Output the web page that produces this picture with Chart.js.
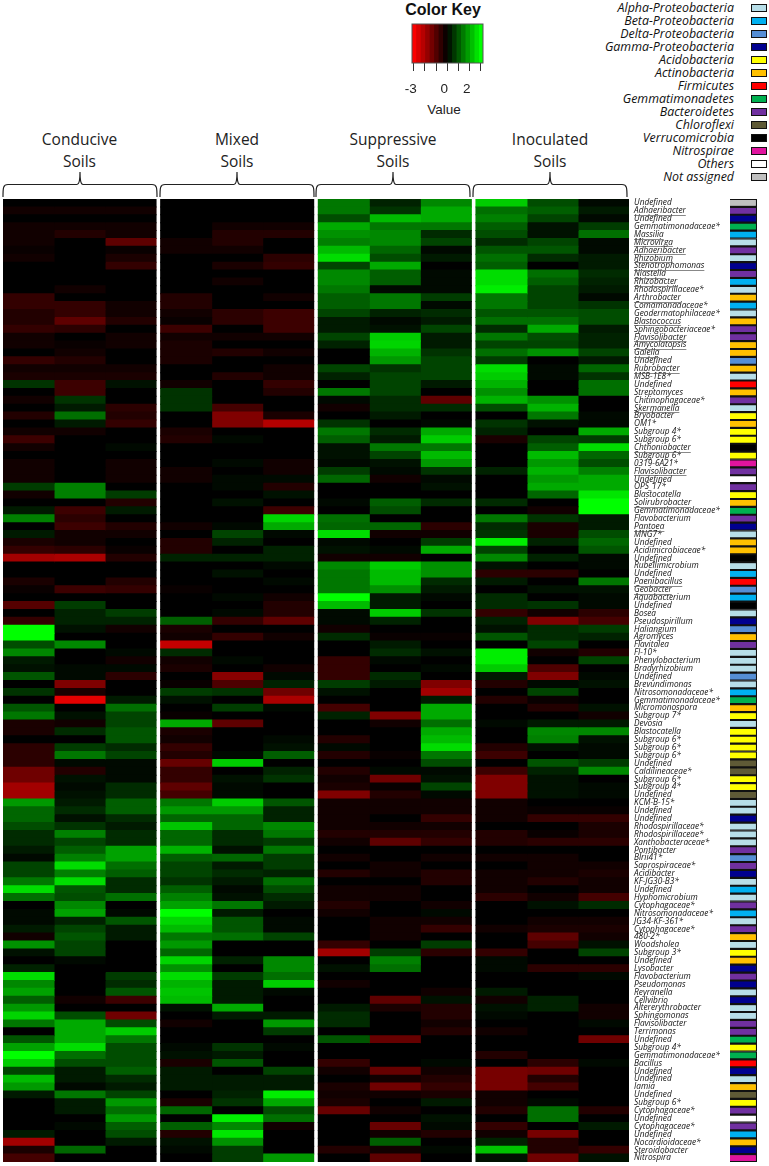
<!DOCTYPE html>
<html>
<head>
<meta charset="utf-8">
<title>Soil heatmap</title>
<script src="https://cdn.jsdelivr.net/npm/chart.js@4/dist/chart.umd.min.js"></script>
<style>
html, body { margin: 0; padding: 0; background: #fff; }
#page { position: relative; width: 769px; height: 1166px; overflow: hidden; }
canvas { position: absolute; }
.head { position: absolute; width: 150px; text-align: center; font: 15.5px/22px "Open Sans", sans-serif; color: #222; }
.leg { position: absolute; right: 35px; font: italic 12.4px/13px "Open Sans", sans-serif; color: #111; white-space: nowrap; }
.swatch { position: absolute; left: 751px; width: 14px; height: 6px; border: 1px solid #111; }
#braces { position: absolute; left: 0; top: 165px; }
#keyTitle { position: absolute; left: 393px; width: 100px; top: 0; text-align: center; font: bold 16px/19px "Liberation Sans", sans-serif; color: #111; }
#keyValue { position: absolute; left: 394px; width: 100px; top: 102px; text-align: center; font: 13.5px/16px "Liberation Sans", sans-serif; color: #222; }
</style>
</head>
<body>
<div id="page">
  <svg id="braces" width="640" height="35"></svg>
  <div id="keyTitle">Color Key</div>
  <div id="keyValue">Value</div>
  <canvas id="keyCanvas" width="118" height="123" style="left:392px;top:0"></canvas>
  <canvas id="heatCanvas" width="730" height="971" style="left:0;top:195px"></canvas>
  <canvas id="stripCanvas" width="27" height="963" style="left:730px;top:199px"></canvas>
</div>
<script>
// row labels, top to bottom
const genera = ['Undefined','Adhaeribacter','Undefined','Gemmatimonadaceae*','Massilia','Microvirga','Adhaeribacter','Rhizobium','Stenotrophomonas','Niastella',
  'Rhizobacter','Rhodospirillaceae*','Arthrobacter','Comamonadaceae*','Geodermatophilaceae*','Blastococcus','Sphingobacteriaceae*','Flavisolibacter','Amycolatopsis','Gaiella',
  'Undefined','Rubrobacter','MSB-1E8*','Undefined','Streptomyces','Chitinophagaceae*','Skermanella','Bryobacter','OM1*','Subgroup 4*',
  'Subgroup 6*','Chthoniobacter','Subgroup 6*','0319-6A21*','Flavisolibacter','Undefined','OPS_17*','Blastocatella','Solirubrobacter','Gemmatimonadaceae*',
  'Flavobacterium','Pantoea','MNG7*','Undefined','Acidimicrobiaceae*','Undefined','Rubellimicrobium','Undefined','Paenibacillus','Geobacter',
  'Aquabacterium','Undefined','Bosea','Pseudospirillum','Haliangium','Agromyces','Flavitalea','FI-10*','Phenylobacterium','Bradyrhizobium',
  'Undefined','Brevundimonas','Nitrosomonadaceae*','Gemmatimonadaceae*','Micromonospora','Subgroup 7*','Devosia','Blastocatella','Subgroup 6*','Subgroup 6*',
  'Subgroup 6*','Undefined','Caldilineaceae*','Subgroup 6*','Subgroup 4*','Undefined','KCM-B-15*','Undefined','Undefined','Rhodospirillaceae*',
  'Rhodospirillaceae*','Xanthobacteraceae*','Pontibacter','Blrii41*','Saprospiraceae*','Acidibacter','KF-JG30-B3*','Undefined','Hyphomicrobium','Cytophagaceae*',
  'Nitrosomonadaceae*','JG34-KF-361*','Cytophagaceae*','480-2*','Woodsholea','Subgroup 3*','Undefined','Lysobacter','Flavobacterium','Pseudomonas',
  'Reyranella','Cellvibrio','Altererythrobacter','Sphingomonas','Flavisolibacter','Terrimonas','Undefined','Subgroup 4*','Gemmatimonadaceae*','Bacillus',
  'Undefined','Undefined','Iamia','Undefined','Subgroup 6*','Cytophagaceae*','Undefined','Cytophagaceae*','Undefined','Nocardioidaceae*',
  'Steroidobacter','Nitrospira'];

// row numbers (from 0) with an underlined name
const underlined = [1,4,5,6,7,8,9,10,12,15,17,18,19,21,26,31,34,38,41,48,49];

const phyla = ['Alpha-Proteobacteria','Beta-Proteobacteria','Delta-Proteobacteria','Gamma-Proteobacteria','Acidobacteria','Actinobacteria','Firmicutes','Gemmatimonadetes','Bacteroidetes','Chloroflexi','Verrucomicrobia','Nitrospirae','Others','Not assigned'];
const phylumColors = ['#b7dee8','#00b0f0','#558ed5','#00008f','#ffff00','#ffc000','#ff0000','#00b050','#7030a0','#5f5a36','#000000','#e0149f','#ffffff','#bfbfbf'];

// phylum of each row, index into phyla
const rowPhylum = [13,8,3,7,1,0,8,0,3,8, 1,0,5,1,0,5,8,8,5,5, 2,5,0,6,5,8,0,4,5,4,
  4,10,4,11,8,12,8,4,5,7, 8,3,0,5,5,10,0,1,6,2, 1,10,0,3,2,5,8,0,0,0,
  2,0,1,7,5,4,0,4,4,4, 4,9,9,4,4,9,0,0,3,0, 0,0,8,2,8,3,0,1,0,8,
  1,0,8,5,0,4,5,3,8,3, 0,3,0,0,8,8,7,4,7,6, 3,0,5,9,4,8,12,8,1,5, 3,11];

// heat values, in tenths of a colour key unit, one array per sample column
const conducive1 = [0,-2,0,-2,-2,-2,-1,-2,0,0,0,0,-6,-6,-4,-4,-6,-2,-2,0,-6,-2,-3,6,0,-2,0,-4,0,-2,
  -7,-2,0,-2,-2,-2,7,-2,0,3,15,0,3,-3,-6,-19,0,0,-3,-1,0,-10,0,
  -6,30,30,9,16,3,2,10,0,6,0,10,14,-3,-3,0,-5,-5,-5,-13,-13,-19,-19,
  18,12,12,9,5,5,3,1,8,8,14,26,13,0,1,1,3,-2,17,2,0,4,26,
  16,19,11,18,25,14,0,10,19,30,24,8,22,18,3,0,0,0,0,3,-19,-3,-8];
const conducive2 = [0,-2,0,-2,-4,0,0,0,0,0,0,-2,0,-6,-6,-11,-5,0,-1,-2,-4,-2,-3,-7,-7,6,3,13,3,-2,
  0,0,0,0,0,0,15,15,0,-7,-5,-7,-2,-2,-5,-20,0,0,0,-7,0,7,4,
  4,2,0,16,0,0,1,1,-15,-3,-27,0,2,-2,5,0,7,14,1,-4,2,1,2,
  3,5,2,6,15,8,11,15,26,15,26,10,9,16,19,4,8,10,8,8,1,0,0,
  0,0,-2,0,9,20,20,20,26,13,9,3,3,1,14,3,3,0,1,0,0,12,0];
const conducive3 = [0,-2,0,-2,-2,-11,-1,-3,-6,0,0,0,0,-2,-2,-4,0,-2,-2,0,0,-2,-3,2,0,0,-5,-4,-6,0,
  0,1,0,-2,-2,-2,0,7,-4,3,0,-4,-2,0,-1,-4,0,0,-4,-6,0,0,7,
  4,-2,0,0,1,-2,1,-5,0,0,3,13,8,8,10,10,5,8,1,1,1,5,5,
  11,11,5,3,5,5,19,19,13,11,5,5,13,0,1,10,3,3,0,0,0,0,7,
  5,10,-7,0,-13,9,24,14,9,9,9,11,5,3,8,18,13,18,11,9,3,0,0];
const mixed1 = [0,0,0,0,0,-2,-2,0,0,0,0,0,-4,-4,-2,-1,-7,-2,-3,-3,-3,0,0,-2,6,6,6,0,0,-3,
  -4,0,0,0,-2,-2,0,0,0,0,0,-2,0,-4,-4,4,0,0,0,-1,0,0,0,
  11,-3,-2,-23,5,-2,-3,0,-1,7,2,0,-1,20,-3,-2,-6,-4,-12,-6,-6,-11,-8,
  14,18,12,23,12,12,21,11,8,8,6,11,15,19,30,25,22,14,18,12,25,17,26,
  21,23,22,2,0,-2,0,0,1,2,-3,3,3,3,0,-3,12,0,11,-4,2,1,0];
const mixed2 = [0,0,0,-2,-4,-4,-2,0,-3,0,-2,0,0,0,-5,-5,0,-2,0,-4,0,0,-4,0,0,0,-8,-15,-15,0,
  1,0,0,1,0,1,1,0,2,0,0,1,8,4,0,4,0,2,0,0,1,0,1,
  -6,0,-6,0,0,1,0,-16,-9,6,0,7,0,-11,0,0,0,1,24,0,2,1,1,
  24,18,12,12,5,5,2,12,3,5,3,1,2,14,3,10,10,13,0,0,4,0,7,
  3,3,3,20,3,0,0,0,6,3,10,0,3,3,4,6,0,28,16,27,17,7,7];
const mixed3 = [0,0,0,-2,-4,0,0,-5,-6,0,0,0,-2,0,-7,-7,-7,-2,0,-2,0,-2,-2,-6,-4,0,0,-3,-21,0,
  0,0,0,-2,-2,1,-4,2,0,-7,25,20,1,0,4,4,1,0,1,0,-2,-4,-4,
  -11,0,-2,0,0,0,-2,1,4,-13,-20,1,0,0,0,1,2,11,0,4,6,0,0,
  10,4,4,16,14,7,14,7,7,4,13,9,5,3,0,1,1,8,0,0,16,16,13,
  24,1,0,0,3,18,7,0,1,0,0,8,3,3,28,20,9,13,-2,0,0,0,18];
const suppressive1 = [14,14,9,20,17,15,22,26,8,16,16,14,11,11,8,3,3,8,4,0,0,8,4,0,14,1,-2,0,6,14,
  11,2,2,1,7,12,0,0,1,0,13,12,26,1,2,-2,16,14,14,14,30,22,1,
  1,-2,5,0,0,-6,-6,-6,7,2,0,-8,4,0,0,-4,1,-4,0,-4,-2,-3,-15,
  -2,-2,-2,-2,-4,-2,0,-2,0,-4,0,-2,-2,-4,-2,0,0,0,-6,-19,0,2,0,
  -2,0,0,3,5,5,0,10,0,0,-6,-2,0,-3,-2,-3,-12,0,0,0,0,-4,0];
const suppressive2 = [4,6,22,14,16,16,12,9,20,11,11,1,14,14,4,1,2,24,25,21,18,6,8,8,8,5,5,3,0,5,
  3,14,8,2,1,-2,0,0,11,9,0,12,-2,0,1,-2,24,22,22,17,3,3,24,
  4,0,-1,3,5,1,0,5,3,0,0,0,-15,-2,0,0,0,-1,0,1,-13,-1,-4,
  -2,-2,0,-2,-4,-11,0,0,-2,-2,0,-2,-2,0,0,-2,-2,-2,0,7,15,13,0,
  0,0,-11,-3,0,0,0,-12,0,0,0,-12,-2,-13,-2,0,-2,0,-12,-2,11,-2,-11];
const suppressive3 = [16,20,20,14,5,8,1,3,0,1,1,1,7,1,5,3,8,3,3,6,8,8,8,3,0,-11,5,0,1,20,
  24,14,22,18,6,1,2,0,5,0,0,-5,-2,7,20,0,17,17,5,3,1,0,6,
  0,0,-1,0,2,0,1,0,-15,-19,3,20,20,13,20,22,26,14,9,1,2,8,1,
  -2,-2,-6,-2,-4,-6,0,-2,0,-4,-4,0,0,-2,1,-2,-6,0,7,-5,0,0,0,
  0,-2,2,-4,-4,-2,-4,0,0,0,1,-2,-4,-6,-3,3,0,2,1,-4,0,1,0];
const inoculated1 = [24,13,15,11,9,5,10,13,11,26,26,28,14,14,10,13,5,14,8,13,7,26,24,21,17,21,9,0,6,4,
  -3,0,0,0,4,0,0,0,5,0,14,5,6,28,8,16,2,-5,3,0,5,5,-6,
  4,2,10,0,28,28,24,3,-4,0,-4,0,0,1,0,0,-4,-7,0,-7,-15,-15,-15,
  -2,-2,-2,0,-4,-4,0,-2,0,-2,-2,-2,-5,0,0,0,-2,0,0,-6,1,1,0,
  0,3,-2,2,1,0,-2,0,0,-4,0,-14,-14,-14,-2,-2,-4,0,-6,-2,4,23,2];
const inoculated2 = [9,11,8,2,2,8,10,5,0,13,11,8,8,8,10,13,20,9,8,17,0,1,1,0,0,17,21,14,2,0,
  8,11,22,18,21,18,20,12,0,-2,6,-3,-3,4,0,4,0,-5,0,2,0,6,-2,
  -15,5,5,8,-2,0,-9,-15,1,8,-1,-4,0,3,16,15,2,0,10,4,2,2,2,
  0,-1,-6,0,-1,-5,0,-2,-2,-2,-4,0,-2,2,0,-2,-3,-11,-8,0,0,-5,0,
  0,0,4,4,0,0,0,0,0,0,-5,-13,-4,-8,0,1,13,13,0,-14,-4,-4,-13];
const inoculated3 = [1,3,1,7,13,1,1,3,3,5,4,3,1,6,9,9,3,4,4,8,3,12,6,13,13,0,0,1,1,20,
  7,26,12,9,15,20,20,27,30,30,3,3,9,12,10,1,1,0,14,2,1,1,-5,
  -8,7,4,0,-4,8,0,1,2,0,0,2,-2,3,16,2,1,1,7,16,0,1,1,
  0,-1,-6,-3,-3,-5,0,0,-2,-3,-2,-2,-8,5,0,-2,-3,-2,2,8,0,-5,1,
  0,0,0,-2,-2,1,0,-13,0,0,1,0,0,0,0,0,-4,0,3,0,0,-6,2];

const groups = [
  { name: ['Conducive','Soils'], columns: [conducive1, conducive2, conducive3] },
  { name: ['Mixed','Soils'], columns: [mixed1, mixed2, mixed3] },
  { name: ['Suppressive','Soils'], columns: [suppressive1, suppressive2, suppressive3] },
  { name: ['Inoculated','Soils'], columns: [inoculated1, inoculated2, inoculated3] }
];

// colour key
const keyEdges = [-3.15,-2.75,-2.35,-1.95,-1.55,-1.15,-0.75,-0.35,0.05,0.45,0.85,1.25,1.65,2.05,2.45,2.85,3.18];
const keyTicks = { '-3': '-3', '0': '0', '2': '2' };

function heatColor(v) {
  const level = Math.min(255, Math.round(Math.abs(v) / 30 * 255));
  return v < 0 ? 'rgb(' + level + ',0,0)' : 'rgb(0,' + level + ',0)';
}

const labelFont = 'Open Sans';
const labelSize = 8.3;

// underline for the names in the underlined list
const underlinePlugin = {
  id: 'underlineNames',
  afterDraw(chart) {
    const ctx = chart.ctx, y = chart.scales.y;
    ctx.save();
    ctx.font = 'italic ' + labelSize + 'px "' + labelFont + '"';
    ctx.strokeStyle = '#555';
    ctx.lineWidth = 0.7;
    underlined.forEach(i => {
      const w = ctx.measureText(genera[i]).width;
      const py = Math.round(y.getPixelForTick(i) + 4) + 0.5;
      ctx.beginPath();
      ctx.moveTo(y.left + 5, py);
      ctx.lineTo(y.left + 5 + w, py);
      ctx.stroke();
    });
    ctx.restore();
  }
};

const heatSets = [];
groups.forEach((g, gi) => {
  g.columns.forEach(col => {
    heatSets.push({ data: col.map(() => 1), backgroundColor: col.map(heatColor), borderWidth: 0, inflateAmount: 0.5 });
  });
  if (gi < groups.length - 1) {
    // white space between the soil groups
    heatSets.push({ data: genera.map(() => 0.09), backgroundColor: 'rgba(0,0,0,0)', borderWidth: 0 });
  }
});

new Chart(document.getElementById('heatCanvas'), {
  type: 'bar',
  data: { labels: genera, datasets: heatSets },
  plugins: [underlinePlugin],
  options: {
    indexAxis: 'y',
    responsive: false,
    animation: false,
    layout: { padding: { left: 3, top: 4, bottom: 4 } },
    categoryPercentage: 1,
    barPercentage: 1,
    plugins: { legend: { display: false }, tooltip: { enabled: false } },
    scales: {
      x: { stacked: true, display: false, min: 0, max: 12.27 },
      y: {
        stacked: true,
        position: 'right',
        grid: { display: false, drawTicks: false },
        border: { display: false },
        afterFit(scale) { scale.width = 101; scale.paddingTop = 0; scale.paddingBottom = 0; },
        ticks: { autoSkip: false, padding: 5, color: '#111', maxRotation: 0, font: { family: labelFont, size: labelSize, style: 'italic' } }
      }
    }
  }
});

// phylum strip
new Chart(document.getElementById('stripCanvas'), {
  type: 'bar',
  data: {
    labels: genera,
    datasets: [{
      data: genera.map(() => 1),
      backgroundColor: rowPhylum.map(p => phylumColors[p]),
      borderColor: '#111',
      borderWidth: 1.4
    }]
  },
  options: {
    indexAxis: 'y',
    responsive: false,
    animation: false,
    categoryPercentage: 1,
    barPercentage: 1,
    plugins: { legend: { display: false }, tooltip: { enabled: false } },
    scales: {
      x: { display: false, min: 0, max: 1 },
      y: { display: false }
    }
  }
});

// colour key
const keyFrame = {
  id: 'keyFrame',
  afterDraw(chart) {
    const a = chart.chartArea, ctx = chart.ctx;
    ctx.save();
    ctx.strokeStyle = '#555';
    ctx.lineWidth = 1;
    ctx.strokeRect(a.left, a.top, a.right - a.left, a.bottom - a.top);
    ctx.restore();
  }
};
const keySets = keyEdges.slice(1).map((edge, i) => ({
  // bands overlap a little so no seam shows between them
  data: [[keyEdges[i], Math.min(edge + 0.06, 3.18)]],
  backgroundColor: heatColor((keyEdges[i] + edge) * 5),
  borderWidth: 0,
  grouped: false,
  order: keyEdges.length - i
}));
new Chart(document.getElementById('keyCanvas'), {
  type: 'bar',
  data: { labels: ['key'], datasets: keySets },
  plugins: [keyFrame],
  options: {
    indexAxis: 'y',
    responsive: false,
    animation: false,
    categoryPercentage: 1,
    barPercentage: 1,
    layout: { padding: { left: 20, right: 27, top: 24 } },
    plugins: { legend: { display: false }, tooltip: { enabled: false } },
    scales: {
      y: { display: false },
      x: {
        min: -3.15,
        max: 3.18,
        afterFit(scale) { scale.height = 60; },
        grid: { drawOnChartArea: false, tickLength: 8, color: '#333' },
        border: { display: false },
        ticks: {
          stepSize: 1,
          includeBounds: false,
          autoSkip: false,
          maxRotation: 0,
          padding: 10,
          labelOffset: -3,
          color: '#222',
          font: { family: 'Liberation Sans', size: 13.5 },
          callback: v => keyTicks[v] || ''
        }
      }
    }
  }
});

// group headings and braces
const page = document.getElementById('page');
const headCentres = [79.5, 237, 393, 550];
const braceSpans = [[3, 157], [160, 314], [316, 470], [473, 627]];
let bracePaths = '';
groups.forEach((g, i) => {
  const div = document.createElement('div');
  div.className = 'head';
  div.style.left = (headCentres[i] - 75) + 'px';
  div.style.top = '128px';
  div.innerHTML = g.name.join('<br>');
  page.appendChild(div);
  const [a, b] = braceSpans[i], m = (a + b) / 2, t = 19.5;
  bracePaths += 'M' + a + ' 32 C' + a + ' 23 ' + a + ' ' + t + ' ' + (a + 5) + ' ' + t +
    ' H' + (m - 3) + ' Q' + m + ' ' + t + ' ' + m + ' 7 Q' + m + ' ' + t + ' ' + (m + 3) + ' ' + t +
    ' H' + (b - 5) + ' C' + b + ' ' + t + ' ' + b + ' 23 ' + b + ' 32 ';
});
document.getElementById('braces').innerHTML = '<path d="' + bracePaths + '" fill="none" stroke="#222" stroke-width="1.2"/>';

// phylum legend
phyla.forEach((name, i) => {
  const y = 7.3 + i * 13;
  const text = document.createElement('div');
  text.className = 'leg';
  text.style.top = (y - 6.5) + 'px';
  text.textContent = name;
  page.appendChild(text);
  const sw = document.createElement('div');
  sw.className = 'swatch';
  sw.style.top = (y - 3.5) + 'px';
  sw.style.background = phylumColors[i];
  page.appendChild(sw);
});
</script>
</body>
</html>
